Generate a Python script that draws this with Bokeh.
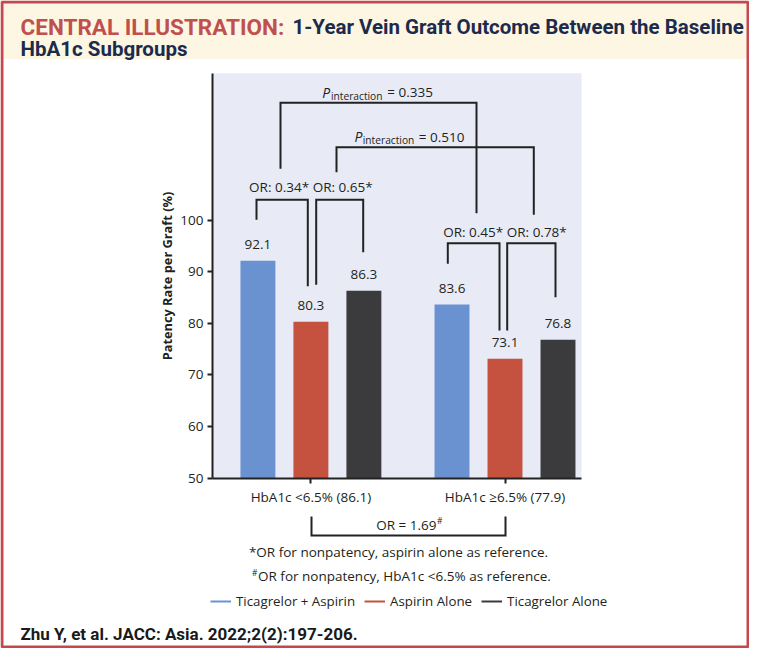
from bokeh.plotting import figure
from bokeh.models import (Range1d, LinearAxis, FixedTicker, Label, LabelSet,
                          ColumnDataSource, Legend, LegendItem)
from bokeh.core.properties import value
from bokeh.embed import file_html
from bokeh.resources import INLINE

# ---------------- data ----------------
groups = ["HbA1c <6.5% (86.1)", "HbA1c \u22656.5% (77.9)"]
series = ["Ticagrelor + Aspirin", "Aspirin Alone", "Ticagrelor Alone"]
ticagrelor_aspirin = [92.1, 83.6]
aspirin_alone = [80.3, 73.1]
ticagrelor_alone = [86.3, 76.8]
group_or = ["OR: 0.34* OR: 0.65*", "OR: 0.45* OR: 0.78*"]
p_interaction = ["0.335", "0.510"]
or_hba1c = "1.69"
y_ticks = [50, 60, 70, 80, 90, 100]
footnote_star = "*OR for nonpatency, aspirin alone as reference."
footnote_hash = "OR for nonpatency, HbA1c <6.5% as reference."
title_red = "CENTRAL ILLUSTRATION:"
title_line1 = "1-Year Vein Graft Outcome Between the Baseline"
title_line2 = "HbA1c Subgroups"
citation = "Zhu Y, et al. JACC: Asia. 2022;2(2):197-206."
y_label = "Patency Rate per Graft (%)"
colors = ["#6a92d0", "#c4523f", "#3b3b3d"]

# ---------------- layout helpers (reference pixels -> data) ----------------
W, H = 749, 648
G0_PX, G_STEP_PX = 310.4, 194.1
Y_BASE, Y_PX = 477.5, 5.16


def X(rx):
    return (rx - G0_PX) / G_STEP_PX


def Y(ry):
    return 50 + (Y_BASE - ry) / Y_PX


BODY = "Open Sans"
INK = "#231f20"

p = figure(width=W, height=H,
           x_range=Range1d(X(0), X(W)),
           y_range=Range1d(Y(H), Y(0)),
           x_axis_type=None, y_axis_type=None,
           toolbar_location=None, output_backend="svg", min_border=0)
p.outline_line_color = None
p.background_fill_color = "white"
p.border_fill_color = "white"

# title band, plot background, border
p.quad(left=X(0), right=X(W), top=Y(0), bottom=Y(58.5),
       fill_color="#fcf6e3", line_color=None)
p.quad(left=X(212), right=X(581), top=Y(72.7), bottom=50,
       fill_color="#e8ebf6", line_color=None)
p.quad(left=X(1.5), right=X(W - 1.5), top=Y(1.5), bottom=Y(H - 1.5),
       fill_color=None, line_color="#c4484e", line_width=3)

# bars
offsets = [-0.273, 0.0, 0.273]
values = [ticagrelor_aspirin, aspirin_alone, ticagrelor_alone]
for i, (name, vals, col) in enumerate(zip(series, values, colors)):
    src = ColumnDataSource(dict(x=[g + offsets[i] for g in range(len(groups))],
                                top=vals, lab=[f"{v:.1f}" for v in vals]))
    p.vbar(x="x", top="top", bottom=50, width=0.18, source=src,
           fill_color=col, line_color=None)
    p.add_layout(LabelSet(x="x", y="top", text="lab", source=src, y_offset=16,
                          text_align="center", text_baseline="middle",
                          text_font=value(BODY), text_font_size="13.5px",
                          text_color=INK))

# brackets (reference pixel geometry)
brackets = [
    [(280, 168.3), (280, 102.3), (476, 102.3), (476, 212.7)],
    [(336, 171.7), (336, 146.7), (533.3, 146.7), (533.3, 214.3)],
    [(256, 219.3), (256, 199.3), (307.3, 199.3), (307.3, 285.7)],
    [(315.7, 284.3), (315.7, 199.3), (362.7, 199.3), (362.7, 251.7)],
    [(447.3, 263.3), (447.3, 242.7), (499, 242.7), (499, 330)],
    [(506.7, 330), (506.7, 242.7), (555, 242.7), (555, 296.7)],
    [(311, 516), (311, 535), (505, 535), (505, 516)],
]
p.multi_line(xs=[[X(a) for a, b in br] for br in brackets],
             ys=[[Y(b) for a, b in br] for br in brackets],
             line_color="#222222", line_width=2, line_join="miter")

# axes
yax = LinearAxis(fixed_location=X(212), ticker=FixedTicker(ticks=y_ticks),
                 bounds=(50, Y(72.7)), axis_label=y_label)
yax.axis_line_width = 2
yax.axis_line_color = "#222222"
yax.major_tick_line_width = 2
yax.major_tick_line_color = "#222222"
yax.major_tick_out = 5
yax.major_tick_in = 0
yax.minor_tick_line_color = None
yax.major_label_text_font = BODY
yax.major_label_text_font_size = "13.5px"
yax.major_label_text_color = INK
yax.major_label_standoff = 4
yax.axis_label_text_font = BODY
yax.axis_label_text_font_style = "bold"
yax.axis_label_text_font_size = "12.8px"
yax.axis_label_text_color = INK
yax.axis_label_standoff = 1
p.add_layout(yax, "left")

xax = LinearAxis(fixed_location=50, ticker=FixedTicker(ticks=[0, 1]),
                 bounds=(X(212), X(581)),
                 major_label_overrides={i: g for i, g in enumerate(groups)})
xax.axis_line_width = 2
xax.axis_line_color = "#222222"
xax.major_tick_line_width = 2
xax.major_tick_line_color = "#222222"
xax.major_tick_out = 5
xax.major_tick_in = 0
xax.minor_tick_line_color = None
xax.major_label_text_font = BODY
xax.major_label_text_font_size = "13.5px"
xax.major_label_text_color = INK
xax.major_label_standoff = 5
p.add_layout(xax, "below")


def lab(rx, ry, text, size="13.5px", font=BODY, style="normal", color=INK,
        align="center", baseline="middle"):
    p.add_layout(Label(x=X(rx), y=Y(ry), text=text, text_font=font,
                       text_font_size=size, text_font_style=style,
                       text_color=color, text_align=align, text_baseline=baseline))


# group OR labels
for g, t in enumerate(group_or):
    ry = [186.7, 231.7][g]
    p.add_layout(Label(x=g, y=Y(ry), text=t, text_font=BODY, text_font_size="13.5px",
                       text_color=INK, text_align="center", text_baseline="middle"))

# P interaction labels
for (px, ix, ex, by), pv in zip([(321.7, 330.5, 386.7, 91.7), (354, 362.3, 418.3, 136)], p_interaction):
    lab(px, by, "P", size="14px", style="italic", align="left", baseline="alphabetic")
    lab(ix, by + 3.3, "interaction", size="10.2px", align="left", baseline="alphabetic")
    lab(ex, by, "= " + pv, size="13.5px", align="left", baseline="alphabetic")

# HbA1c OR
lab(436, 524.3, "OR = " + or_hba1c, align="right")
lab(436.5, 520, "#", size="8.5px", align="left")

# footnotes
lab(398, 551.7, footnote_star)
lab(257.5, 575, footnote_hash, align="left")
lab(257, 571.5, "#", size="8.5px", align="right")

# title
lab(20, 26, title_red, size="22.5px", font="Roboto", style="bold", color="#c0504d",
    align="left", baseline="alphabetic")
lab(292, 26, title_line1, size="20.5px", font="Roboto", style="bold", color="#1c2a4c",
    align="left", baseline="alphabetic")
lab(20, 48, title_line2, size="20.5px", font="Roboto", style="bold", color="#1c2a4c",
    align="left", baseline="alphabetic")

# citation
lab(20, 633, citation, size="17px", font="Roboto", style="bold", color="#1a1a1a",
    align="left")

# legend (line keys, as in the original)
items = []
for name, col in zip(series, colors):
    r = p.line(x=[0, 0], y=[50, 50], line_color=col, line_width=2)
    items.append(LegendItem(label=name, renderers=[r]))
legend = Legend(items=items, orientation="horizontal", location=(210, H - 611),
                glyph_width=21, glyph_height=20, label_height=20, label_standoff=5,
                spacing=9, padding=0, margin=0, border_line_color=None,
                background_fill_alpha=0, label_text_font=BODY,
                label_text_font_size="13.3px", label_text_color=INK)
p.add_layout(legend, "center")

open("out.html", "w").write(file_html(p, INLINE))
